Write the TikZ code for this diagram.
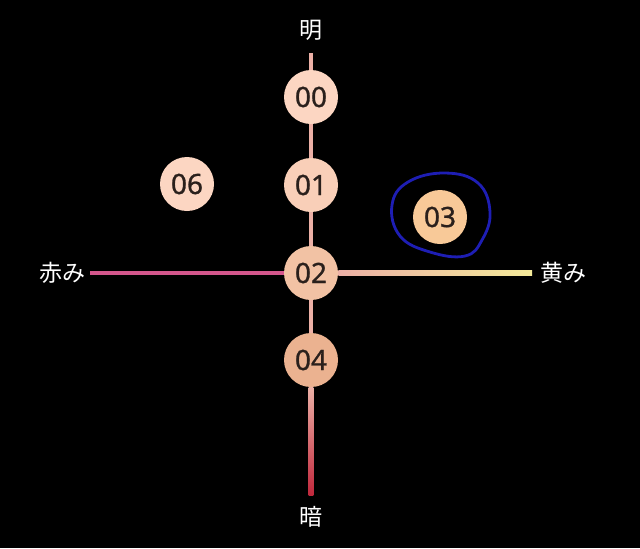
\documentclass[tikz,border=0pt]{standalone}
\usepackage{fontspec}
\newfontfamily\cjk{Noto Sans CJK JP}
\newfontfamily\numfont{Noto Sans}[FakeBold=1]
\usetikzlibrary{calc}

\definecolor{bg}{HTML}{000000}
\definecolor{peachA}{HTML}{FCD6C2}
\definecolor{peachB}{HTML}{F9CFB8}
\definecolor{peachC}{HTML}{F2C2A4}
\definecolor{peachD}{HTML}{EBB290}
\definecolor{peachE}{HTML}{F8C998}
\definecolor{numtext}{HTML}{2A201C}
\definecolor{lightaxis}{HTML}{ECB0A6}
\definecolor{redaxis}{HTML}{C0283C}
\definecolor{pinkaxis}{HTML}{D4568C}
\definecolor{yellowaxis}{HTML}{F4EA9A}
\definecolor{penblue}{HTML}{1E1EB4}

\tikzset{
  dot/.style={circle, minimum size=27pt, inner sep=0pt, text=numtext, font=\numfont\fontsize{14}{14}\selectfont},
  axislabel/.style={text=white, inner sep=0pt, font=\cjk\fontsize{11.5}{11.5}\selectfont},
  axisline/.style={line width=2.4pt}
}

\begin{document}
\begin{tikzpicture}[x=0.5pt,y=-0.5pt]
   % background
   \fill[bg] (0,0) rectangle (640,548);
   \useasboundingbox (0,0) rectangle (640,548);

   % axis ends
   \coordinate (top) at (311,53);
   \coordinate (bottom) at (311,495);
   \coordinate (left) at (90,273);
   \coordinate (right) at (532,273);

   % draw nodes
   \node[dot, fill=peachA] (c00) at (311,97) {00};
   \node[dot, fill=peachB] (c01) at (311,185) {01};
   \node[dot, fill=peachC] (c02) at (311,273) {02};
   \node[dot, fill=peachE] (c03) at (440,217) {03};
   \node[dot, fill=peachD] (c04) at (311,360) {04};
   \node[dot, fill=peachA] (c06) at (187,184) {06};

   % draw axes
   \draw[axisline, lightaxis] (top) -- (c00) (c00) -- (c01) (c01) -- (c02) (c02) -- (c04);
   \shade[top color=lightaxis, bottom color=redaxis] ($(c04.south)+(-2.4,0)$) rectangle ($(bottom)+(2.4,0)$);
   \draw[axisline, pinkaxis] (left) -- (c02);
   \shade[left color=lightaxis, right color=yellowaxis] ($(c02.east)+(0,-2.4)$) rectangle ($(right)+(0,2.4)$);

   % axis labels
   \node[axislabel] (light) at (311,30) {明};
   \node[axislabel] (dark) at (311,517) {暗};
   \node[axislabel] (red) at (62,273) {赤み};
   \node[axislabel] (yellow) at (563,273) {黄み};

   % pen mark round 03
   \draw[penblue, line width=1.4pt] plot[smooth cycle, tension=0.7] coordinates
     {(392,205) (408,182) (445,173) (478,183) (490,212) (482,240) (465,256) (430,252) (400,236)};
 \end{tikzpicture}
\end{document}
